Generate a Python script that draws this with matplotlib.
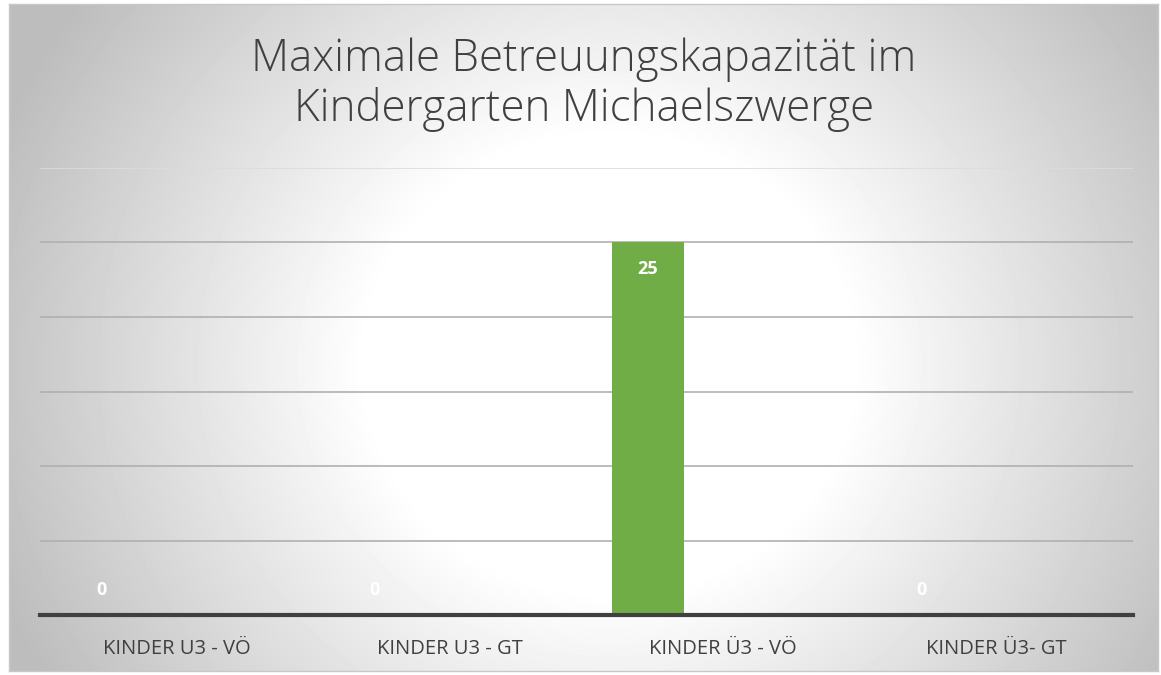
import numpy as np
import matplotlib.pyplot as plt

categories = ["KINDER U3 - VÖ", "KINDER U3 - GT", "KINDER Ü3 - VÖ", "KINDER Ü3- GT"]
plaetze = [0, 0, 25, 0]
title = "Maximale Betreuungskapazität im\nKindergarten Michaelszwerge"

W, H = 1161, 675
fig = plt.figure(figsize=(W / 100, H / 100), dpi=100)
fig.patch.set_facecolor("white")

# radial gradient background of the chart area
bg = fig.add_axes([9 / W, 4 / H, 1149 / W, 667 / H])
yy, xx = np.mgrid[0:667, 0:1149]
cx, cy = 600, 360
r = np.sqrt(((xx - cx) / 640.0) ** 2 + ((yy - cy) / 600.0) ** 2)
shade = np.clip(1.0 - 0.25 * np.clip((r - 0.38) / 0.62, 0, 1.2), 0.74, 1.0)
bg.imshow(shade, cmap="gray", vmin=0, vmax=1, aspect="auto", extent=[0, 1, 0, 1])
bg.set_xticks([])
bg.set_yticks([])
for s in bg.spines.values():
    s.set_color("#c8c8c8")
    s.set_linewidth(1)

ax = fig.add_axes([40 / W, 60 / H, 1093 / W, 447 / H])
ax.patch.set_alpha(0)
x = np.arange(len(categories))
offset = -0.275
bars = ax.bar(x + offset, plaetze, width=0.267, color="#70ad47", zorder=3)

ax.set_xlim(-0.5, 3.5)
ax.set_ylim(0, 30)
ax.set_yticks(np.arange(5, 31, 5))
ax.yaxis.grid(True, color="#b0b0b0", linewidth=1.2, zorder=0)
ax.set_yticklabels([])
ax.tick_params(axis="y", length=0)
ax.set_xticks(x)
ax.set_xticklabels(categories, fontsize=14.5, color="#404040", family=["Open Sans", "DejaVu Sans"])
ax.tick_params(axis="x", length=0, pad=17)
for s in ["top", "right", "left"]:
    ax.spines[s].set_visible(False)
ax.spines["bottom"].set_color("#404040")
ax.spines["bottom"].set_linewidth(3)
ax.spines["bottom"].set_zorder(4)

# top gridline is lighter
ax.get_ygridlines()[-1].set_color("#dcdcdc")

for xi, v in zip(x, plaetze):
    dy = -19 if v > 0 else 18
    ax.annotate(str(v), (xi + offset, v), xytext=(0, dy), textcoords="offset points",
                ha="center", va="center", color="white", fontsize=13, fontweight="bold",
                family=["Open Sans", "DejaVu Sans"], zorder=5)

fig.text(0.503, 0.875, title, ha="center", va="center", fontsize=31.7, color="#404040",
         fontweight="light", family=["Open Sans", "Lato", "DejaVu Sans"], linespacing=1.15)

fig.savefig("out.png", dpi=100, facecolor="white")
